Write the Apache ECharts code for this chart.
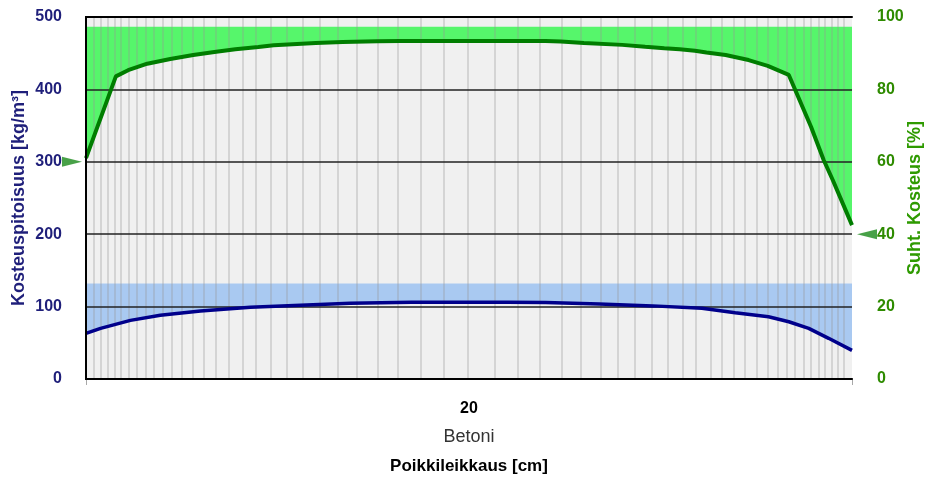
<!DOCTYPE html>
<html><head><meta charset="utf-8">
<script src="https://cdn.jsdelivr.net/npm/echarts@6/dist/echarts.min.js"></script>
<style>html,body{margin:0;padding:0;background:#fff}#c{width:927px;height:480px}</style>
</head><body><div id="c"></div>
<script>
// ---- data ----
const layers = ['20'];
const materials = ['Betoni'];
const leftTicks = [0, 100, 200, 300, 400, 500];
const rightTicks = [0, 20, 40, 60, 80, 100];
const gridLines = [100, 200, 300, 400];
const meshX = [0.21,0.39,0.56,0.74,0.91,1.11,1.32,1.55,1.78,2.00,2.24,2.50,2.78,3.08,3.39,3.74,4.08,4.43,4.82,5.24,5.67,6.10,6.58,7.08,7.61,8.15,8.75,9.35,9.98,10.66,11.26,11.86,12.41,12.93,13.43,13.89,14.34,14.78,15.20,15.59,15.93,16.30,16.61,16.92,17.21,17.52,17.81,18.07,18.30,18.51,18.75,18.93,19.14,19.30,19.48,19.64,19.79];
const rhX   = [0, 0.78, 1.1, 1.6, 2.2, 2.8, 3.4, 3.9, 4.5, 4.9, 6.0, 6.7, 7.6, 8.2, 12.0, 12.4, 13.0, 14.0, 14.6, 15.1, 15.5, 15.9, 16.2, 16.7, 17.3, 17.8, 18.35, 18.93, 19.26, 19.5, 20];
const rhVal = [61.0, 83.6, 85.3, 87.1, 88.4, 89.5, 90.4, 91.1, 91.7, 92.2, 92.8, 93.1, 93.3, 93.4, 93.4, 93.2, 92.8, 92.3, 91.8, 91.4, 91.1, 90.7, 90.2, 89.5, 88.1, 86.5, 84.0, 69.7, 60.5, 54.9, 42.5];
const rhTop = 97.3;
const wX   = [0, 0.38, 1.16, 1.94, 2.99, 4.29, 5.6, 6.9, 8.5, 11.0, 12.0, 13.4, 14.8, 16.08, 16.95, 17.82, 18.35, 18.87, 19.39, 20];
const wVal = [63, 70, 81, 88, 94, 99, 102, 104.5, 106, 106, 105.5, 103.5, 101, 97.6, 91.6, 86, 79.1, 70, 56.2, 39.5];
const wTop = 132;
const boundaryRH = [60, 40];

// ---- chart ----
const FONT = 'Liberation Sans, Arial, sans-serif';
const zip = (xs, ys) => xs.map((x, i) => [x, ys[i]]);
const chart = echarts.init(document.getElementById('c'), null, {renderer: 'canvas'});
const option = {
  animation: false,
  grid: {left: 86, right: 75, top: 17, bottom: 101, show: true, backgroundColor: '#f0f0f0', borderWidth: 0,
         outerBoundsMode: 'none', containLabel: false},
  xAxis: [
    {type: 'value', min: 0, max: 20, position: 'bottom', z: 10,
     axisLine: {show: true, lineStyle: {color: '#000', width: 2}},
     axisTick: {show: false}, axisLabel: {show: false}, splitLine: {show: false}},
    {type: 'category', data: layers, position: 'bottom', offset: 11, boundaryGap: true,
     axisLine: {show: true, lineStyle: {color: '#a8a8a8', width: 2}},
     axisTick: {show: true, length: 6, lineStyle: {color: '#a8a8a8', width: 1}},
     axisLabel: {margin: 4, fontFamily: FONT,
       formatter: (v, i) => '{a|' + v + '}\n{b|' + materials[i] + '}',
       rich: {a: {fontSize: 16, fontWeight: 'bold', color: '#000', lineHeight: 29, fontFamily: FONT},
              b: {fontSize: 18, color: '#333', lineHeight: 29, fontFamily: FONT}}},
     name: 'Poikkileikkaus [cm]', nameLocation: 'middle', nameGap: 68, nameMoveOverlap: false,
     nameTextStyle: {fontSize: 17, fontWeight: 'bold', color: '#000', fontFamily: FONT}},
    {type: 'value', min: 0, max: 20, position: 'top', z: 10,
     axisLine: {show: true, lineStyle: {color: '#000', width: 2}},
     axisTick: {show: false}, axisLabel: {show: false}, splitLine: {show: false}}
  ],
  yAxis: [
    {type: 'value', min: leftTicks[0], max: leftTicks[leftTicks.length - 1], interval: 100, position: 'left', z: 10,
     axisLine: {show: true, lineStyle: {color: '#000', width: 2}},
     axisTick: {show: false}, splitLine: {show: false},
     axisLabel: {margin: 24, fontSize: 16, fontWeight: 'bold', color: '#1f1f7a', fontFamily: FONT},
     name: 'Kosteuspitoisuus [kg/m³]', nameLocation: 'middle', nameGap: 58, nameMoveOverlap: false,
     nameTextStyle: {fontSize: 18, fontWeight: 'bold', color: '#1f1f7a', fontFamily: FONT}},
    {type: 'value', min: rightTicks[0], max: rightTicks[rightTicks.length - 1], interval: 20, position: 'right', z: 10,
     axisLine: {show: true, lineStyle: {color: '#000', width: 2}},
     axisTick: {show: false}, splitLine: {show: false},
     axisLabel: {margin: 25, fontSize: 16, fontWeight: 'bold', color: '#2e8b00', fontFamily: FONT},
     name: 'Suht. Kosteus [%]', nameLocation: 'middle', nameGap: 54, nameMoveOverlap: false,
     nameTextStyle: {fontSize: 18, fontWeight: 'bold', color: '#2e9a00', fontFamily: FONT}}
  ],
  series: [
    {type: 'line', yAxisIndex: 1, data: zip(rhX, rhVal), symbol: 'none', silent: true, z: 2,
     lineStyle: {opacity: 0}, areaStyle: {color: '#56f66b', opacity: 1, origin: rhTop}},
    {type: 'line', yAxisIndex: 0, data: zip(wX, wVal), symbol: 'none', silent: true, z: 2,
     lineStyle: {opacity: 0}, areaStyle: {color: '#a9c9f1', opacity: 1, origin: wTop}},
    {type: 'line', data: [], silent: true, z: 3,
     markLine: {silent: true, symbol: 'none', z: 3, animation: false, label: {show: false},
       lineStyle: {color: 'rgba(150,150,150,0.3)', width: 2, type: 'solid'},
       data: meshX.map(x => ({xAxis: x}))}},
    {type: 'line', data: [], silent: true, z: 4,
     markLine: {silent: true, symbol: 'none', z: 4, animation: false, label: {show: false},
       lineStyle: {color: '#222', width: 1.5, type: 'solid'},
       data: gridLines.map(y => ({yAxis: y}))}},
    {type: 'line', yAxisIndex: 1, data: zip(rhX, rhVal), symbol: 'none', z: 8, silent: true,
     lineStyle: {color: '#007d00', width: 4}},
    {type: 'line', yAxisIndex: 0, data: zip(wX, wVal), symbol: 'none', z: 8, silent: true,
     lineStyle: {color: '#00008b', width: 3.5}},
    {type: 'scatter', yAxisIndex: 1, clip: false, z: 9, silent: true, symbol: 'triangle',
     itemStyle: {color: '#1a8a1a'},
     data: [
       {value: [0, boundaryRH[0]], symbolSize: [10, 20], symbolRotate: -90, symbolOffset: [-14, 0]},
       {value: [20, boundaryRH[1]], symbolSize: [10, 20], symbolRotate: 90, symbolOffset: [15, 0]}
     ]}
  ]
};
chart.setOption(option);
</script></body></html>
